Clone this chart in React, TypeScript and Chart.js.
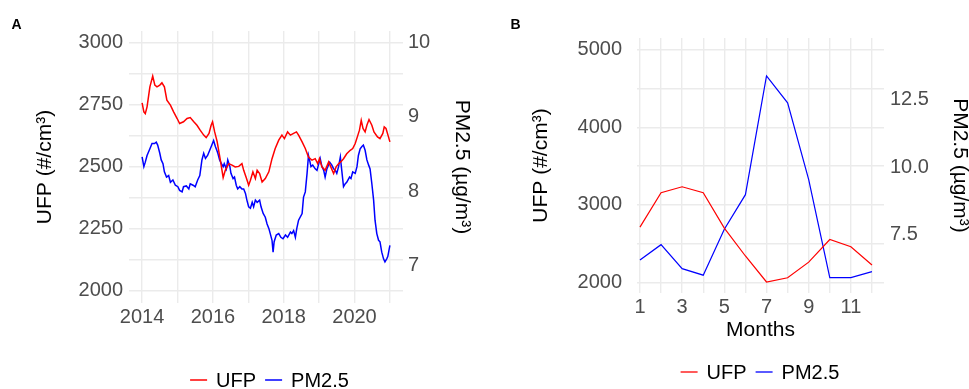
import React, { useEffect, useRef } from 'react';
import { Chart, registerables } from 'chart.js';

Chart.register(...registerables);

const FONT = '"Liberation Sans", Arial, Helvetica, sans-serif';
const GRID = '#ebebeb';
const TICK_COLOR = '#4d4d4d';
const RED = '#ff0000';
const BLUE = '#0000ff';

// ---------- Panel A: time series (decimal years) ----------
const ufpYearsA = [
  2014.00, 2014.05, 2014.09, 2014.14, 2014.22, 2014.30, 2014.36, 2014.42, 2014.50, 2014.56, 2014.63, 2014.70, 2014.80, 2014.89, 2014.99,
  2015.06, 2015.17, 2015.27, 2015.36, 2015.46, 2015.55, 2015.64, 2015.74, 2015.81, 2015.89, 2015.95, 2015.99,
  2016.05, 2016.12, 2016.21, 2016.29, 2016.35, 2016.45, 2016.54, 2016.63, 2016.73, 2016.82, 2016.87, 2016.95,
  2017.01, 2017.06, 2017.13, 2017.20, 2017.25, 2017.32, 2017.39, 2017.48, 2017.58, 2017.67, 2017.76, 2017.86, 2017.95,
  2018.02, 2018.11, 2018.19, 2018.28, 2018.36, 2018.42, 2018.52, 2018.61, 2018.70, 2018.80, 2018.89, 2018.96,
  2019.01, 2019.08, 2019.17, 2019.27, 2019.33, 2019.41, 2019.48, 2019.55, 2019.61, 2019.69, 2019.78, 2019.88, 2019.95,
  2020.02, 2020.08, 2020.14, 2020.19, 2020.24, 2020.30, 2020.35, 2020.41, 2020.49, 2020.55, 2020.65, 2020.72, 2020.80, 2020.84, 2020.89, 2020.96,
  2021.00,
];
const ufpValuesA = [
  2756, 2720, 2713, 2740, 2821, 2864, 2828, 2821, 2828, 2837, 2821, 2767, 2747, 2720, 2693,
  2673, 2680, 2693, 2697, 2680, 2666, 2646, 2626, 2616, 2633, 2666, 2680,
  2639, 2600, 2525, 2455, 2484, 2511, 2505, 2498, 2500, 2511, 2484, 2451,
  2424, 2444, 2478, 2451, 2484, 2471, 2437, 2451, 2478, 2531, 2572, 2606, 2626,
  2612, 2639, 2626, 2633, 2639, 2626, 2599, 2572, 2538, 2525, 2531, 2511,
  2531, 2498, 2484, 2518, 2498, 2471, 2498, 2511, 2518, 2531, 2551, 2565, 2572,
  2592, 2619, 2646, 2686, 2653, 2639, 2666, 2689, 2666, 2639, 2619, 2612, 2633, 2659, 2653, 2619,
  2599,
];
const pmYearsA = [
  2014.00, 2014.05, 2014.09, 2014.14, 2014.22, 2014.28, 2014.35, 2014.40, 2014.44, 2014.50, 2014.54, 2014.59, 2014.63, 2014.69, 2014.75, 2014.80, 2014.87, 2014.94,
  2015.01, 2015.06, 2015.13, 2015.17, 2015.25, 2015.32, 2015.36, 2015.44, 2015.50, 2015.57, 2015.63, 2015.69, 2015.74, 2015.79, 2015.85, 2015.91, 2015.97,
  2016.02, 2016.07, 2016.11, 2016.14, 2016.19, 2016.24, 2016.29, 2016.32, 2016.38, 2016.42, 2016.48, 2016.51, 2016.57, 2016.61, 2016.66, 2016.70, 2016.76, 2016.82, 2016.87, 2016.92, 2016.96,
  2017.01, 2017.06, 2017.11, 2017.15, 2017.20, 2017.25, 2017.32, 2017.36, 2017.42, 2017.48, 2017.53, 2017.58, 2017.62, 2017.67, 2017.70, 2017.73, 2017.79, 2017.86, 2017.92, 2017.98,
  2018.05, 2018.11, 2018.19, 2018.23, 2018.28, 2018.33, 2018.37, 2018.42, 2018.52, 2018.56, 2018.61, 2018.66, 2018.70, 2018.73, 2018.77, 2018.82, 2018.89, 2018.94, 2018.98,
  2019.03, 2019.08, 2019.13, 2019.17, 2019.22, 2019.30, 2019.36, 2019.41, 2019.46, 2019.50, 2019.55, 2019.60, 2019.64, 2019.69, 2019.74, 2019.78, 2019.86, 2019.90, 2019.95,
  2020.02, 2020.07, 2020.11, 2020.16, 2020.21, 2020.25, 2020.30, 2020.35, 2020.40, 2020.44, 2020.49, 2020.54, 2020.58, 2020.63, 2020.68, 2020.72, 2020.77, 2020.82, 2020.86, 2020.91, 2020.94,
  2021.00,
];
const pmValuesA = [
  8.46, 8.33, 8.39, 8.48, 8.57, 8.64, 8.64, 8.66, 8.62, 8.51, 8.42, 8.37, 8.26, 8.19, 8.21, 8.12, 8.15, 8.08,
  8.06, 8.01, 7.99, 8.06, 8.07, 8.03, 8.10, 8.08, 8.06, 8.15, 8.21, 8.42, 8.51, 8.44, 8.48, 8.55, 8.62,
  8.68, 8.60, 8.55, 8.51, 8.42, 8.37, 8.33, 8.37, 8.30, 8.42, 8.33, 8.24, 8.17, 8.19, 8.08, 8.03, 8.06, 8.03, 8.03, 7.97, 7.88,
  7.79, 7.77, 7.85, 7.79, 7.88, 7.85, 7.88, 7.79, 7.70, 7.65, 7.56, 7.50, 7.43, 7.34, 7.18, 7.32, 7.41, 7.43, 7.38, 7.36,
  7.41, 7.38, 7.45, 7.43, 7.47, 7.38, 7.50, 7.61, 7.70, 7.92, 7.99, 8.24, 8.48, 8.42, 8.33, 8.35, 8.30, 8.28, 8.35,
  8.44, 8.33, 8.28, 8.19, 8.30, 8.39, 8.35, 8.30, 8.28, 8.24, 8.33, 8.46, 8.28, 8.06, 8.10, 8.12, 8.19, 8.17, 8.26,
  8.24, 8.33, 8.48, 8.57, 8.60, 8.62, 8.55, 8.42, 8.35, 8.30, 8.10, 7.88, 7.61, 7.43, 7.34, 7.32, 7.18, 7.09, 7.05, 7.09, 7.12,
  7.27,
];
const yearGridA = [2014, 2015, 2016, 2017, 2018, 2019, 2020, 2021];
const yearLabelsA = [2014, 2016, 2018, 2020];
const ufpGridA = [2000, 2125, 2250, 2375, 2500, 2625, 2750, 2875, 3000];
const ufpLabelsA = [2000, 2250, 2500, 2750, 3000];
const pmTicksA = [7, 8, 9, 10];

// ---------- Panel B: monthly means ----------
const months = [1, 2, 3, 4, 5, 6, 7, 8, 9, 10, 11, 12];
const monthLabels = [1, 3, 5, 7, 9, 11];
const ufpMonthly = [2712, 3155, 3232, 3155, 2700, 2340, 2005, 2060, 2261, 2553, 2459, 2223];
const pmMonthly = [6.56, 7.13, 6.24, 6.00, 7.70, 8.98, 13.38, 12.38, 9.54, 5.91, 5.91, 6.13];
const ufpGridB = [2000, 2500, 3000, 3500, 4000, 4500, 5000];
const ufpLabelsB = [2000, 3000, 4000, 5000];
const pmTicksB = [7.5, 10, 12.5];

const bottomLegend = {
  id: 'bottomLegend',
  afterDraw(chart: any, _args: any, opts: any) {
    const ctx = chart.ctx;
    ctx.save();
    ctx.font = `${opts.fontSize}px ${FONT}`;
    ctx.textBaseline = 'middle';
    ctx.textAlign = 'left';
    const items = chart.data.datasets.map((ds: any) => ({ text: ds.label, color: ds.borderColor }));
    const widths = items.map((it: any) => opts.lineLength + opts.gap + ctx.measureText(it.text).width);
    const total = widths.reduce((a: number, b: number) => a + b, 0) + opts.spacing * (items.length - 1);
    let x = opts.centerX - total / 2;
    items.forEach((it: any, i: number) => {
      ctx.strokeStyle = it.color;
      ctx.lineWidth = opts.lineWidth;
      ctx.beginPath();
      ctx.moveTo(x, opts.y);
      ctx.lineTo(x + opts.lineLength, opts.y);
      ctx.stroke();
      ctx.fillStyle = '#000000';
      ctx.fillText(it.text, x + opts.lineLength + opts.gap, opts.y + 1);
      x += widths[i] + opts.spacing;
    });
    ctx.restore();
  },
};

const tickFont = { family: FONT, size: 20 };
const titleFont = { family: FONT, size: 21, lineHeight: 1 };

function setTicks(values: number[]) {
  return (axis: any) => {
    axis.ticks = values.map((v) => ({ value: v }));
  };
}

function configA(): any {
  return {
    type: 'line',
    data: {
      datasets: [
        {
          label: 'UFP',
          data: ufpYearsA.map((x, i) => ({ x, y: ufpValuesA[i] })),
          borderColor: RED,
          borderWidth: 1.5,
          pointRadius: 0,
          tension: 0,
          yAxisID: 'y',
        },
        {
          label: 'PM2.5',
          data: pmYearsA.map((x, i) => ({ x, y: pmValuesA[i] })),
          borderColor: BLUE,
          borderWidth: 1.5,
          pointRadius: 0,
          tension: 0,
          yAxisID: 'y1',
        },
      ],
    },
    options: {
      animation: false,
      responsive: false,
      events: [],
      layout: { padding: { top: 31, left: 0, right: 0, bottom: 0 } },
      plugins: {
        legend: { display: false },
        tooltip: { enabled: false },
        bottomLegend: { centerX: 269.5, y: 380, fontSize: 20, lineLength: 17, gap: 9, spacing: 9, lineWidth: 1.5 },
      },
      scales: {
        x: {
          type: 'linear',
          min: 2013.63,
          max: 2021.37,
          afterBuildTicks: setTicks(yearGridA),
          afterFit: (s: any) => { s.height = 86; },
          grid: { color: GRID, lineWidth: 1.4, drawTicks: false },
          border: { display: false },
          ticks: {
            padding: 2,
            color: TICK_COLOR,
            font: tickFont,
            autoSkip: false,
            maxRotation: 0,
            callback: (v: number) => (yearLabelsA.includes(v) ? String(v) : ''),
          },
        },
        y: {
          position: 'left',
          min: 1949,
          max: 3046,
          afterBuildTicks: setTicks(ufpGridA),
          afterFit: (s: any) => { s.width = 129; },
          grid: { color: GRID, lineWidth: 1.4, drawTicks: false },
          border: { display: false },
          ticks: {
            padding: 6,
            color: TICK_COLOR,
            font: tickFont,
            autoSkip: false,
            callback: (v: number) => (ufpLabelsA.includes(v) ? String(v) : ''),
          },
          title: { display: true, text: 'UFP (#/cm³)', color: '#000000', font: titleFont, padding: { top: 34.5, bottom: 0 } },
        },
        y1: {
          position: 'right',
          min: 1949 / 300,
          max: 3046 / 300,
          afterBuildTicks: setTicks(pmTicksA),
          afterFit: (s: any) => { s.width = 82; },
          grid: { display: false, drawTicks: false },
          border: { display: false },
          ticks: {
            padding: 5,
            color: TICK_COLOR,
            font: tickFont,
            autoSkip: false,
            callback: (v: number) => String(v),
          },
          title: { display: true, text: 'PM2.5 (µg/m³)', color: '#000000', font: titleFont, padding: { top: 12.8, bottom: 0 } },
        },
      },
    },
    plugins: [bottomLegend],
  };
}

function configB(): any {
  return {
    type: 'line',
    data: {
      datasets: [
        {
          label: 'UFP',
          data: months.map((x, i) => ({ x, y: ufpMonthly[i] })),
          borderColor: RED,
          borderWidth: 1.2,
          pointRadius: 0,
          tension: 0,
          yAxisID: 'y',
        },
        {
          label: 'PM2.5',
          data: months.map((x, i) => ({ x, y: pmMonthly[i] })),
          borderColor: BLUE,
          borderWidth: 1.2,
          pointRadius: 0,
          tension: 0,
          yAxisID: 'y1',
        },
      ],
    },
    options: {
      animation: false,
      responsive: false,
      events: [],
      layout: { padding: { top: 38, left: 0, right: 0, bottom: 0 } },
      plugins: {
        legend: { display: false },
        tooltip: { enabled: false },
        bottomLegend: { centerX: 275, y: 372, fontSize: 20, lineLength: 17, gap: 9, spacing: 9, lineWidth: 1.3 },
      },
      scales: {
        x: {
          type: 'linear',
          min: 0.86,
          max: 12.57,
          afterBuildTicks: setTicks(months),
          afterFit: (s: any) => { s.height = 96; },
          grid: { color: GRID, lineWidth: 1.4, drawTicks: false },
          border: { display: false },
          ticks: {
            padding: 2,
            color: TICK_COLOR,
            font: tickFont,
            autoSkip: false,
            maxRotation: 0,
            callback: (v: number) => (monthLabels.includes(v) ? String(v) : ''),
          },
          title: { display: true, text: 'Months', color: '#000000', font: titleFont, padding: { top: 0, bottom: 48 } },
        },
        y: {
          position: 'left',
          min: 1863,
          max: 5150,
          afterBuildTicks: setTicks(ufpGridB),
          afterFit: (s: any) => { s.width = 152; },
          grid: { color: GRID, lineWidth: 1.4, drawTicks: false },
          border: { display: false },
          ticks: {
            padding: 15,
            color: TICK_COLOR,
            font: tickFont,
            autoSkip: false,
            callback: (v: number) => (ufpLabelsB.includes(v) ? String(v) : ''),
          },
          title: { display: true, text: 'UFP (#/cm³)', color: '#000000', font: titleFont, padding: { top: 45.5, bottom: 0 } },
        },
        y1: {
          position: 'right',
          min: 5.34,
          max: 14.78,
          afterBuildTicks: setTicks(pmTicksB),
          afterFit: (s: any) => { s.width = 85; },
          grid: { display: false, drawTicks: false },
          border: { display: false },
          ticks: {
            padding: 6,
            color: TICK_COLOR,
            font: tickFont,
            autoSkip: false,
            callback: (v: number) => v.toFixed(1),
          },
          title: { display: true, text: 'PM2.5 (µg/m³)', color: '#000000', font: titleFont, padding: { top: -1.5, bottom: 0 } },
        },
      },
    },
    plugins: [bottomLegend],
  };
}

const panelLabel: React.CSSProperties = {
  position: 'absolute',
  fontFamily: FONT,
  fontWeight: 'bold',
  fontSize: '14px',
  lineHeight: '14px',
  color: '#000000',
};

export default function App() {
  const refA = useRef<HTMLCanvasElement>(null);
  const refB = useRef<HTMLCanvasElement>(null);

  useEffect(() => {
    const a = new Chart(refA.current as HTMLCanvasElement, configA());
    const b = new Chart(refB.current as HTMLCanvasElement, configB());
    return () => {
      a.destroy();
      b.destroy();
    };
  }, []);

  return (
    <div style={{ position: 'absolute', left: 0, top: 0, width: 969, height: 389, background: '#ffffff', overflow: 'hidden' }}>
      <canvas ref={refA} width={485} height={389} style={{ position: 'absolute', left: 0, top: 0, width: 485, height: 389 }} />
      <canvas ref={refB} width={484} height={389} style={{ position: 'absolute', left: 485, top: 0, width: 484, height: 389 }} />
      <div style={{ ...panelLabel, left: 11.5, top: 16.5 }}>A</div>
      <div style={{ ...panelLabel, left: 510.5, top: 16.5 }}>B</div>
    </div>
  );
}
